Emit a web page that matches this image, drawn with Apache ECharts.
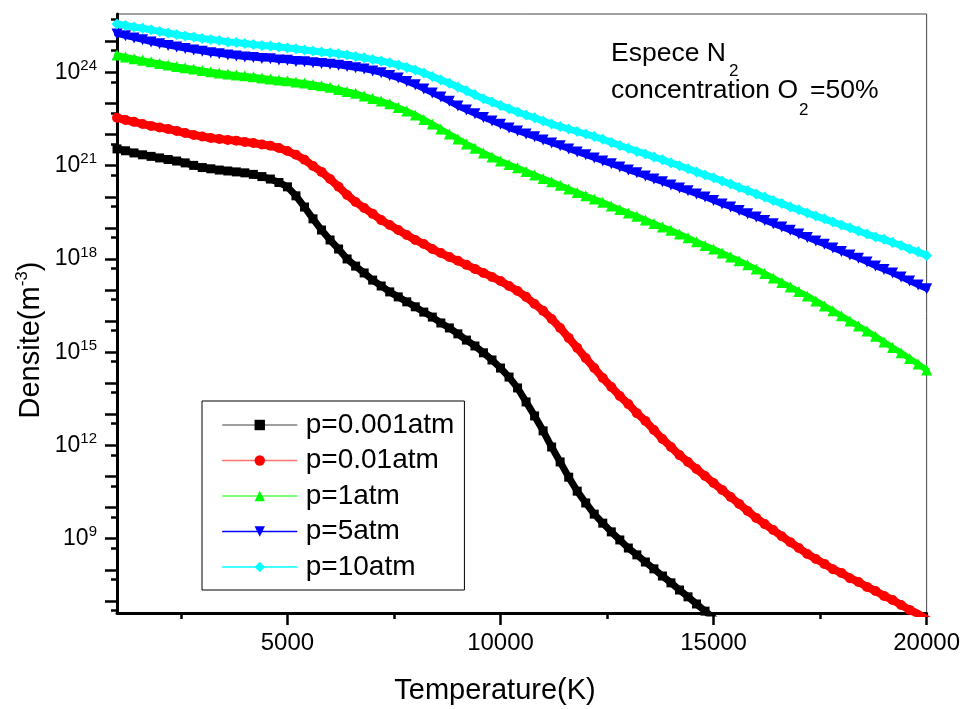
<!DOCTYPE html>
<html><head><meta charset="utf-8">
<script src="https://cdn.jsdelivr.net/npm/echarts@6/dist/echarts.min.js"></script>
<style>html,body{margin:0;padding:0;background:#fff}#c{width:963px;height:709px}</style>
</head><body><div id="c"></div>
<script>
// Temperature grid (K)
const temperatures = [1000,1200,1400,1600,1800,2000,2200,2400,2600,2800,3000,3200,3400,3600,3800,4000,4200,4400,4600,4800,
5000,5200,5400,5600,5800,6000,6200,6400,6600,6800,7000,7200,7400,7600,7800,8000,8200,8400,8600,8800,
9000,9200,9400,9600,9800,10000,10200,10400,10600,10800,11000,11200,11400,11600,11800,12000,12200,12400,12600,12800,
13000,13200,13400,13600,13800,14000,14200,14400,14600,14800,15000,15200,15400,15600,15800,16000,16200,16400,16600,16800,
17000,17200,17400,17600,17800,18000,18200,18400,18600,18800,19000,19200,19400,19600,19800,20000];

// log10 of N2 density (m^-3)
const logN_p0001 = [21.54,21.48,21.41,21.35,21.30,21.25,21.20,21.15,21.09,21.01,20.94,20.90,20.86,20.83,20.80,20.77,20.72,20.65,20.57,20.46,
20.32,20.03,19.67,19.29,18.93,18.61,18.32,18.00,17.77,17.55,17.32,17.13,16.94,16.78,16.62,16.46,16.29,16.13,15.94,15.78,
15.59,15.39,15.20,14.98,14.75,14.49,14.20,13.85,13.40,12.95,12.47,11.95,11.47,10.98,10.53,10.15,9.79,9.50,9.22,8.96,
8.70,8.48,8.25,8.03,7.80,7.58,7.35,7.13,6.90,6.67,6.45];
const logN_p001 = [22.54,22.47,22.41,22.34,22.28,22.23,22.18,22.12,22.05,21.99,21.94,21.89,21.86,21.83,21.80,21.76,21.73,21.68,21.64,21.57,
21.47,21.35,21.19,20.99,20.80,20.57,20.32,20.06,19.83,19.64,19.45,19.25,19.09,18.93,18.77,18.61,18.48,18.32,18.19,18.06,
17.94,17.81,17.68,17.55,17.42,17.29,17.13,16.97,16.78,16.55,16.33,16.07,15.78,15.46,15.14,14.81,14.49,14.17,13.88,13.59,
13.33,13.04,12.79,12.50,12.21,11.95,11.69,11.47,11.24,11.02,10.79,10.57,10.34,10.12,9.89,9.67,9.47,9.28,9.08,8.89,
8.70,8.51,8.35,8.19,8.02,7.90,7.73,7.61,7.45,7.32,7.16,7.03,6.87,6.71,6.58,6.42];
const logN_p1 = [24.56,24.50,24.44,24.39,24.34,24.29,24.24,24.19,24.15,24.11,24.06,24.02,23.98,23.95,23.92,23.89,23.86,23.82,23.79,23.76,
23.73,23.69,23.66,23.61,23.57,23.52,23.45,23.39,23.33,23.24,23.16,23.08,22.99,22.87,22.76,22.63,22.49,22.34,22.18,22.02,
21.86,21.70,21.56,21.41,21.28,21.15,21.04,20.93,20.81,20.70,20.59,20.48,20.37,20.25,20.14,20.03,19.93,19.82,19.70,19.59,
19.48,19.37,19.25,19.14,19.03,18.92,18.80,18.68,18.55,18.43,18.32,18.19,18.06,17.94,17.81,17.68,17.53,17.39,17.24,17.10,
16.95,16.81,16.65,16.49,16.33,16.17,16.00,15.84,15.68,15.51,15.33,15.15,14.98,14.80,14.62,14.43];
const logN_p5 = [25.24,25.18,25.11,25.05,24.98,24.92,24.87,24.82,24.77,24.72,24.68,24.63,24.60,24.56,24.53,24.50,24.48,24.45,24.44,24.40,
24.39,24.35,24.34,24.31,24.29,24.26,24.23,24.19,24.15,24.11,24.05,23.99,23.90,23.82,23.71,23.60,23.47,23.34,23.21,23.07,
22.92,22.79,22.67,22.55,22.44,22.33,22.21,22.12,22.02,21.93,21.83,21.73,21.64,21.54,21.44,21.35,21.25,21.15,21.06,20.96,
20.86,20.77,20.67,20.57,20.48,20.38,20.28,20.19,20.09,19.99,19.88,19.77,19.67,19.56,19.45,19.35,19.24,19.13,19.03,18.92,
18.80,18.69,18.58,18.47,18.35,18.24,18.13,18.02,17.90,17.77,17.66,17.55,17.42,17.29,17.16,17.04];
const logN_p10 = [25.56,25.51,25.46,25.42,25.37,25.32,25.27,25.22,25.17,25.14,25.09,25.06,25.03,24.98,24.96,24.93,24.90,24.87,24.85,24.82,
24.79,24.76,24.72,24.69,24.66,24.63,24.60,24.56,24.51,24.47,24.42,24.37,24.31,24.24,24.16,24.08,23.98,23.87,23.76,23.65,
23.53,23.41,23.28,23.15,23.05,22.94,22.83,22.73,22.63,22.54,22.44,22.34,22.26,22.18,22.10,22.02,21.94,21.85,21.75,21.65,
21.56,21.46,21.38,21.28,21.19,21.09,21.00,20.90,20.80,20.70,20.61,20.51,20.41,20.30,20.20,20.09,19.99,19.88,19.78,19.67,
19.58,19.48,19.38,19.29,19.19,19.09,19.00,18.90,18.80,18.71,18.63,18.53,18.43,18.32,18.23,18.11];

const seriesNames = ['p=0.001atm','p=0.01atm','p=1atm','p=5atm','p=10atm'];
const xMajorTicks = [5000,10000,15000,20000];
const xMinorTicks = [2500,7500,12500,17500];
const yLabelExponents = [9,12,15,18,21,24];
const yDecadeTicks = [7,8,9,10,11,12,13,14,15,16,17,18,19,20,21,22,23,24,25];
const yFiveTicks = [6,7,8,9,10,11,12,13,14,15,16,17,18,19,20,21,22,23,24,25].map(k => k + Math.log10(5));

const FONT = 'Liberation Sans, Arial, sans-serif';
const Y_MIN = 6.61, Y_MAX = 25.88;

function pairs(arr){ return arr.map((v,i)=>[temperatures[i], v]); }

const styles = [
  {data: logN_p0001, color:'#000000', legendLine:'#808080', symbol:'rect', size:9, rot:0, band:7},
  {data: logN_p001,  color:'#ff0000', legendLine:'#ff7070', symbol:'circle', size:10, rot:0, band:8},
  {data: logN_p1,    color:'#00ff00', legendLine:'#50ff50', symbol:'triangle', size:11, rot:0, band:6},
  {data: logN_p5,    color:'#0000ff', legendLine:'#0000ff', symbol:'triangle', size:11, rot:180, band:6},
  {data: logN_p10,   color:'#00ffff', legendLine:'#00ffff', symbol:'diamond', size:11, rot:0, band:7}
];

const chart = echarts.init(document.getElementById('c'), null, {renderer:'canvas'});
chart.setOption({
  animation: false,
  backgroundColor: '#fff',
  grid: {left:117, top:14, width:810, height:599, show:true, borderColor:'#444', borderWidth:1, containLabel:false},
  xAxis: [{
    type:'value', min:1000, max:20000, position:'bottom',
    axisLine:{show:true, lineStyle:{color:'#000', width:3}},
    axisTick:{show:true, customValues:xMajorTicks, length:12, inside:false, lineStyle:{color:'#000', width:2.5}},
    axisLabel:{show:true, customValues:xMajorTicks, fontSize:24, fontFamily:FONT, color:'#000', margin:18,
      formatter: v => String(v)},
    splitLine:{show:false}
  },{
    type:'value', min:1000, max:20000, position:'bottom',
    axisLine:{show:false},
    axisTick:{show:true, customValues:xMinorTicks, length:6, inside:false, lineStyle:{color:'#000', width:2.5}},
    axisLabel:{show:false}, splitLine:{show:false}
  }],
  yAxis: [{
    type:'value', min:Y_MIN, max:Y_MAX, position:'left',
    axisLine:{show:true, lineStyle:{color:'#000', width:3}},
    axisTick:{show:true, customValues:yDecadeTicks, length:12, inside:false, lineStyle:{color:'#000', width:2.5}},
    axisLabel:{show:true, customValues:yLabelExponents, margin:20, color:'#000',
      formatter: v => '{b|10}{s|' + Math.round(v) + '}',
      rich:{ b:{fontSize:23, fontFamily:FONT, color:'#000', lineHeight:28},
             s:{fontSize:15, fontFamily:FONT, color:'#000', lineHeight:15, verticalAlign:'top'} }
    },
    splitLine:{show:false}
  },{
    type:'value', min:Y_MIN, max:Y_MAX, position:'left',
    axisLine:{show:false},
    axisTick:{show:true, customValues:yFiveTicks, length:6, inside:false, lineStyle:{color:'#000', width:2.5}},
    axisLabel:{show:false}, splitLine:{show:false}
  }],
  legend: {
    orient:'vertical', left:202, top:401,
    borderColor:'#000', borderWidth:1, padding:[10,10,9,20],
    itemWidth:74, itemHeight:13, itemGap:7.5,
    textStyle:{fontSize:28, fontFamily:FONT, color:'#000', lineHeight:28, padding:[0,0,0,4]},
    data: seriesNames.map((n,i)=>({name:n, lineStyle:{color:styles[i].legendLine, width:1.5}}))
  },
  graphic: [
    {type:'text', x:495, y:691, style:{text:'Temperature(K)', fontSize:29, fontFamily:FONT, fill:'#000', align:'center', verticalAlign:'middle'}},
    {type:'text', x:31, y:340, rotation:Math.PI/2, style:{text:'{a|Densite(m}{s|-3}{a|)}', align:'center', verticalAlign:'middle',
      rich:{a:{fontSize:29, fontFamily:FONT, fill:'#000', lineHeight:34}, s:{fontSize:17, fontFamily:FONT, fill:'#000', lineHeight:17, verticalAlign:'top'}}}},
    {type:'text', x:611, y:53.5, style:{text:'Espece N', fontSize:26.5, fontFamily:FONT, fill:'#000', align:'left', verticalAlign:'middle'}},
    {type:'text', x:729, y:71.5, style:{text:'2', fontSize:17, fontFamily:FONT, fill:'#000', align:'left', verticalAlign:'middle'}},
    {type:'text', x:611, y:91, style:{text:'concentration O', fontSize:26.5, fontFamily:FONT, fill:'#000', align:'left', verticalAlign:'middle'}},
    {type:'text', x:799, y:110, style:{text:'2', fontSize:17, fontFamily:FONT, fill:'#000', align:'left', verticalAlign:'middle'}},
    {type:'text', x:810, y:91, style:{text:'=50%', fontSize:26.5, fontFamily:FONT, fill:'#000', align:'left', verticalAlign:'middle'}}
  ],
  series: styles.map((s,i)=>({
    name: seriesNames[i], type:'line', xAxisIndex:0, yAxisIndex:0,
    data: pairs(s.data), symbol:s.symbol, symbolSize:s.size, symbolRotate:s.rot,
    showAllSymbol:true, clip:true,
    itemStyle:{color:s.color, borderWidth:0},
    lineStyle:{color:s.color, width:s.band, cap:'round', join:'round'},
    emphasis:{disabled:true}
  }))
});
</script></body></html>
